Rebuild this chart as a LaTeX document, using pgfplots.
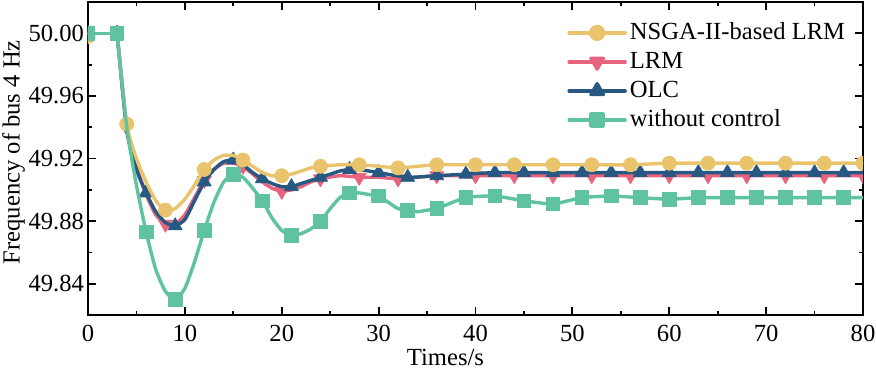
\documentclass[border=0pt]{standalone}
\usepackage{fontspec}
\setmainfont{Liberation Serif}
\usepackage{pgfplots}
\pgfplotsset{compat=1.18}
\definecolor{cY}{RGB}{233,196,108}
\definecolor{cP}{RGB}{232,100,126}
\definecolor{cB}{RGB}{38,88,130}
\definecolor{cG}{RGB}{94,195,158}
\begin{document}
\begin{tikzpicture}
\begin{axis}[name=ax, scale only axis, width=387.5pt, height=156.5pt,
  xmin=0, xmax=80, ymin=49.82, ymax=50.02,
  xtick={0,10,...,80}, ytick={49.84,49.88,49.92,49.96,50.00},
  minor x tick num=1, minor y tick num=1,
  tick align=inside, major tick length=4pt, minor tick length=2.2pt,
  axis line style={line width=0.9pt},
  every tick/.style={black, line width=0.9pt},
  /pgf/number format/assume math mode=true,
  y tick label style={/pgf/number format/fixed, /pgf/number format/fixed zerofill, /pgf/number format/precision=2, xshift=1.5pt},
  tick label style={font=\fontsize{12.3}{14}\selectfont},
  x tick label style={yshift=-1.5pt},
  label style={font=\fontsize{12.3}{14}\selectfont},
  xlabel={Times/s}, ylabel={Frequency of bus 4 Hz},
  xlabel style={xshift=-15pt, yshift=3pt},
  ylabel style={at={(axis description cs:-0.081,0.52)}, anchor=south, inner sep=0pt},
  clip marker paths=true,
  legend image code/.code={\draw[mark repeat=2,mark phase=2,#1] plot coordinates {(0pt,0pt) (14pt,0pt) (28pt,0pt)};},
  legend style={draw=none, fill=none, at={(0.622,1)}, anchor=north west, xshift=-1.5pt, yshift=-8pt,
    inner sep=0pt, font=\fontsize{12.3}{14}\selectfont,
    nodes={inner sep=1.5pt, text height=9pt, text depth=2.5pt}, row sep=0pt},
  legend cell align=left,
  every axis plot/.append style={line join=round, line cap=round},
]
% ---------------- LRM (pink)
\addplot[cP, line width=1.7pt, forget plot] coordinates {(0,50) (3,50)};
\addplot[cP, line width=1.7pt, smooth, tension=0.35, forget plot] table {
x y
3 50.000
4 49.940
5 49.915
6 49.897
7 49.884
8 49.878
9 49.878
10 49.884
11 49.895
12 49.906
13 49.913
14 49.917
15 49.917
16 49.915
17 49.910
18 49.905
19 49.901
20 49.899
21 49.900
22 49.902
23 49.905
24 49.907
26 49.909
28 49.908
30 49.908
32 49.907
34 49.908
36 49.909
40 49.909
44 49.909
48 49.909
52 49.909
56 49.909
60 49.909
64 49.909
68 49.909
72 49.909
76 49.909
80 49.909
};
\addplot[cP, only marks, mark=triangle*, mark size=4pt, mark options={rotate=180}, forget plot] table {
x y
0 50.000
4 49.940
8 49.878
12 49.906
16 49.915
20 49.899
24 49.907
28 49.908
32 49.907
36 49.909
40 49.909
44 49.909
48 49.909
52 49.909
56 49.909
60 49.909
64 49.909
68 49.909
72 49.909
76 49.909
80 49.909
};
% ---------------- OLC (blue)
\addplot[cB, line width=1.7pt, forget plot] coordinates {(0,50) (3,50)};
\addplot[cB, line width=1.7pt, smooth, tension=0.35, forget plot] table {
x y
3 50.000
4 49.938
5 49.913
6 49.898
7 49.886
8 49.879
9 49.877
10 49.881
11 49.893
12 49.905
13 49.913
14 49.918
15 49.919
16 49.916
17 49.911
18 49.907
19 49.904
20 49.902
21 49.902
22 49.904
23 49.906
24 49.908
25 49.910
26 49.912
27 49.913
28 49.913
29 49.912
30 49.911
33 49.908
36 49.909
39 49.910
42 49.911
45 49.911
48 49.911
51 49.911
54 49.911
57 49.911
60 49.911
63 49.911
66 49.911
69 49.911
72 49.911
75 49.911
78 49.911
80 49.911
};
\addplot[cB, only marks, mark=triangle*, mark size=4pt, forget plot] table {
x y
0 50.000
3 50.000
6 49.898
9 49.877
12 49.905
15 49.919
18 49.907
21 49.902
24 49.908
27 49.913
30 49.911
33 49.908
36 49.909
39 49.910
42 49.911
45 49.911
48 49.911
51 49.911
54 49.911
57 49.911
60 49.911
63 49.911
66 49.911
69 49.911
72 49.911
75 49.911
78 49.911
};
% ---------------- NSGA-II-based LRM (yellow)
\addplot[cY, line width=1.7pt, forget plot] coordinates {(0,50) (3,50)};
\addplot[cY, line width=1.7pt, smooth, tension=0.35, forget plot] table {
x y
3 50.000
4 49.942
5 49.920
6 49.905
7 49.893
8 49.887
9 49.888
10 49.894
11 49.903
12 49.913
13 49.919
14 49.922
15 49.922
16 49.919
17 49.915
18 49.911
19 49.909
20 49.909
21 49.910
22 49.912
23 49.914
24 49.915
26 49.916
28 49.916
30 49.915
32 49.914
34 49.915
36 49.916
40 49.916
44 49.916
48 49.916
52 49.916
56 49.916
60 49.917
64 49.917
68 49.917
72 49.917
76 49.917
80 49.917
};
\addplot[cY, only marks, mark=*, mark size=3.5pt, forget plot] table {
x y
0 49.998
4 49.942
8 49.887
12 49.913
16 49.919
20 49.909
24 49.915
28 49.916
32 49.914
36 49.916
40 49.916
44 49.916
48 49.916
52 49.916
56 49.916
60 49.917
64 49.917
68 49.917
72 49.917
76 49.917
80 49.917
};
% ---------------- without control (green)
\addplot[cG, line width=1.7pt, forget plot] coordinates {(0,50) (3,50)};
\addplot[cG, line width=1.7pt, smooth, tension=0.35, forget plot] table {
x y
3 50.000
4 49.940
5 49.903
6 49.873
7 49.849
8 49.835
9 49.830
10 49.837
11 49.854
12 49.874
13 49.892
14 49.905
15 49.910
16 49.908
17 49.901
18 49.893
19 49.882
20 49.874
21 49.871
22 49.872
23 49.875
24 49.880
25 49.888
26 49.895
27 49.898
28 49.898
29 49.897
30 49.896
31 49.892
32 49.888
33 49.887
34 49.886
35 49.887
36 49.888
39 49.895
42 49.896
45 49.893
48 49.891
51 49.895
54 49.896
57 49.895
60 49.894
63 49.895
66 49.895
69 49.895
72 49.895
75 49.895
78 49.895
80 49.895
};
\addplot[cG, only marks, mark=square*, mark size=3.4pt, forget plot] table {
x y
0 50.000
3 50.000
6 49.873
9 49.830
12 49.874
15 49.910
18 49.893
21 49.871
24 49.880
27 49.898
30 49.896
33 49.887
36 49.888
39 49.895
42 49.896
45 49.893
48 49.891
51 49.895
54 49.896
57 49.895
60 49.894
63 49.895
66 49.895
69 49.895
72 49.895
75 49.895
78 49.895
};
% ---------------- legend
\addlegendimage{cY, line width=1.7pt, mark=*, mark size=3.2pt}
\addlegendentry{NSGA-II-based LRM}
\addlegendimage{cP, line width=1.7pt, mark=triangle*, mark size=3.6pt, mark options={rotate=180}}
\addlegendentry{LRM}
\addlegendimage{cB, line width=1.7pt, mark=triangle*, mark size=3.6pt}
\addlegendentry{OLC}
\addlegendimage{cG, line width=1.7pt, mark=square*, mark size=3.1pt}
\addlegendentry{without control}
\end{axis}
\pgfresetboundingbox
\path[use as bounding box] ([shift={(-44pt,-27.5pt)}]ax.south west) rectangle ([shift={(6.5pt,1pt)}]ax.north east);
\end{tikzpicture}
\end{document}
